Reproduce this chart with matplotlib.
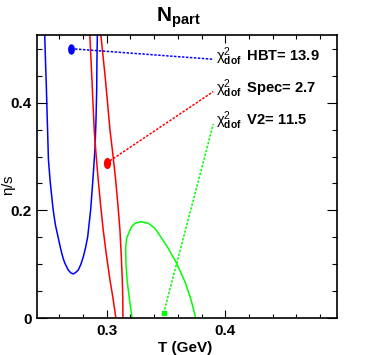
import matplotlib
matplotlib.use("Agg")
import matplotlib.pyplot as plt
import matplotlib.transforms as mtransforms
from matplotlib.path import Path
from matplotlib.ticker import MultipleLocator, FixedLocator

plt.rcParams['font.family'] = ['Liberation Sans', 'DejaVu Sans']
plt.rcParams['mathtext.fontset'] = 'custom'
plt.rcParams['mathtext.rm'] = 'Liberation Sans'
plt.rcParams['mathtext.bf'] = 'Liberation Sans:bold'
plt.rcParams['mathtext.it'] = 'Liberation Sans:italic'

# contour of chi2 minimum region for each observable (T in GeV, eta/s)
hbt_T = [0.2477, 0.2484, 0.2491, 0.2497, 0.2503, 0.2509, 0.2525, 0.2549, 0.2568,
         0.2592, 0.2607, 0.2622, 0.2635, 0.2648, 0.2676, 0.2697, 0.2718, 0.2739,
         0.2761, 0.2782, 0.2803, 0.2821, 0.2840, 0.2865, 0.2882, 0.2901, 0.2910,
         0.2916, 0.2918, 0.2922]
hbt_eta = [0.530, 0.479, 0.433, 0.386, 0.340, 0.294, 0.251, 0.201, 0.173,
           0.149, 0.134, 0.120, 0.110, 0.102, 0.0896, 0.0844, 0.0822, 0.085,
           0.0896, 0.0998, 0.114, 0.130, 0.151, 0.201, 0.251, 0.312, 0.367,
           0.423, 0.479, 0.530]

spec_T = [0.2857, 0.2876, 0.2895, 0.2911, 0.2929, 0.2949, 0.2971, 0.2998, 0.3028,
          0.3053, 0.3076, 0.3082, 0.3110, 0.3138, 0.3137, 0.3136, 0.3132, 0.3123,
          0.3112, 0.3095, 0.3076, 0.3053, 0.3028, 0.2990, 0.2949]
spec_eta = [0.530, 0.4424, 0.3494, 0.303, 0.2566, 0.210, 0.1638, 0.117, 0.0711,
            0.038, 0.003, -0.008, -0.02, -0.008, 0.003, 0.038, 0.0711, 0.117,
            0.1638, 0.210, 0.2566, 0.303, 0.3494, 0.4424, 0.530]

v2_T = [0.3219, 0.3211, 0.3191, 0.3174, 0.3163, 0.3160, 0.3169, 0.3191, 0.3211,
        0.3239, 0.3289, 0.3351, 0.3407, 0.3464, 0.3519, 0.3590, 0.3660, 0.3708,
        0.3745, 0.3753]
v2_eta = [-0.01, 0.0061, 0.0371, 0.0679, 0.0989, 0.1299, 0.1484, 0.1607, 0.1699,
          0.1763, 0.1792, 0.1763, 0.1670, 0.1484, 0.1299, 0.1020, 0.0679, 0.0371,
          0.0061, -0.01]

# best-fit points and label anchors
best_T = [0.270, 0.300, 0.348]
best_eta = [0.500, 0.288, 0.009]
label_T = [0.3893, 0.3899, 0.3899]
label_eta = [0.4805, 0.4204, 0.3605]
chi2_names = ['HBT', 'Spec', 'V2']
chi2_values = ['13.9', '2.7', '11.5']
text_eta = [0.477, 0.418, 0.359]

colors = ['#0000ff', '#ff0000', '#00ff00']

fig = plt.figure(figsize=(3.74, 3.55), dpi=100)
ax = fig.add_axes([0.0981, 0.1034, 0.8022, 0.7989])

curves = [(hbt_T, hbt_eta), (spec_T, spec_eta), (v2_T, v2_eta)]
for (xs, ys), c in zip(curves, colors):
    ax.plot(xs, ys, color=c, lw=1.1, solid_joinstyle='round')

ell = Path.unit_circle().transformed(mtransforms.Affine2D().scale(0.6, 1.0))
markers = [ell, ell, 's']
msizes = [6.5, 7.0, 3.3]
for i, c in enumerate(colors):
    ax.plot([best_T[i], label_T[i]], [best_eta[i], label_eta[i]], color=c,
            lw=1.1, linestyle=(0, (1.6, 1.0)))
    ax.plot(best_T[i], best_eta[i], marker=markers[i], ms=msizes[i],
            color=c, mec=c, ls='none')
    ax.text(0.3922, text_eta[i],
            r'$\mathrm{\chi}^{2}_{\mathbf{dof}}\,$' + ' ' + chi2_names[i] + '= ' + chi2_values[i],
            fontsize=10.6, fontweight='bold', ha='left', va='baseline')

ax.set_xlim(0.241, 0.494)
ax.set_ylim(0, 0.526)

ax.xaxis.set_major_locator(FixedLocator([0.3, 0.4]))
ax.xaxis.set_minor_locator(MultipleLocator(0.02))
ax.yaxis.set_major_locator(FixedLocator([0, 0.2, 0.4]))
ax.yaxis.set_minor_locator(MultipleLocator(0.05))
ax.set_xticklabels(['0.3', '0.4'], fontweight='bold', fontsize=11)
ax.set_yticklabels(['0', '0.2', '0.4'], fontweight='bold', fontsize=11)

ax.tick_params(which='both', direction='in', top=True, right=True, width=0.8)
ax.tick_params(axis='x', which='major', length=6, pad=4)
ax.tick_params(axis='x', which='minor', length=3)
ax.tick_params(axis='y', which='major', length=7, pad=3.5)
ax.tick_params(axis='y', which='minor', length=3.6)
for sp in ax.spines.values():
    sp.set_linewidth(1.2)

ax.set_xlabel('T (GeV)', fontsize=11, fontweight='bold', va='top')
ax.xaxis.set_label_coords(0.494, -0.079)
ax.set_ylabel(r'$\mathrm{\eta}$/s', fontsize=11)
ax.yaxis.set_label_coords(-0.062, 0.47)

fig.text(178 / 374, 1 - 21.7 / 355, r'$\mathbf{N}_{\mathbf{part}}$',
         fontsize=15, ha='center', va='baseline')

fig.savefig('out.png', dpi=100)
